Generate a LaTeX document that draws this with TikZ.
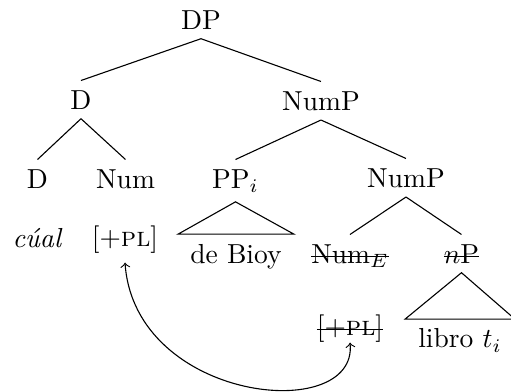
\documentclass[tikz,border=0pt]{standalone}
\usetikzlibrary{calc}
\newcommand\strk[1]{\sbox0{#1}\rlap{\rule[0.5ex]{\wd0}{0.4pt}}\usebox0}

\begin{document}
\begin{tikzpicture}[
  x=0.3636pt, y=-0.3636pt,
  cat/.style={anchor=base},
  branch/.style={thin},
  move/.style={<->},
]

\useasboundingbox (0,0) rectangle (511,392);

\node[cat] (dp) at (201,29) {DP};

\node[cat] (d) at (81,109) {D};
\node[cat] (nump) at (321,110) {NumP};

\node[cat] (dhead) at (37.5,188) {D};
\node[cat] (num) at (125.5,188) {Num};
\node[cat] (pp) at (235.5,188) {PP$_i$};
\node[cat] (numpb) at (406,187) {NumP};

\node[cat] (cual) at (37.5,247) {\textit{cúal}};
\node[cat] (plus) at (125,246) {[$+$\textsc{pl}]};
\node[cat] (debioy) at (236,263) {de Bioy};
\node[cat] (nume) at (350,263) {\strk{Num$_E$}};
\node[cat] (np) at (461.5,263) {\strk{$n$P}};

\node[cat] (plusx) at (350,336) {\strk{[$+$\textsc{pl}]}};
\node[cat] (libro) at (460,348) {libro $t_i$};

\draw[branch] (dp.south) -- (d.north);
\draw[branch] (dp.south) -- (nump.north);
\draw[branch] (d.south) -- (dhead.north);
\draw[branch] (d.south) -- (num.north);
\draw[branch] (nump.south) -- (pp.north);
\draw[branch] (nump.south) -- (numpb.north);
\draw[branch] (numpb.south) -- (nume.north);
\draw[branch] (numpb.south) -- (np.north);

% triangles
\draw[branch] (pp.south) -- ($(debioy.north)+(-58,0)$) -- ($(debioy.north)+(58,0)$) -- cycle;
\draw[branch] (np.south) -- ($(libro.north)+(-55,0)$) -- ($(libro.north)+(55,0)$) -- cycle;

\draw[move] (plus.south) .. controls +(10,140) and +(8,82) .. ($(plusx.south)+(0,-10)$);

\end{tikzpicture}
\end{document}
